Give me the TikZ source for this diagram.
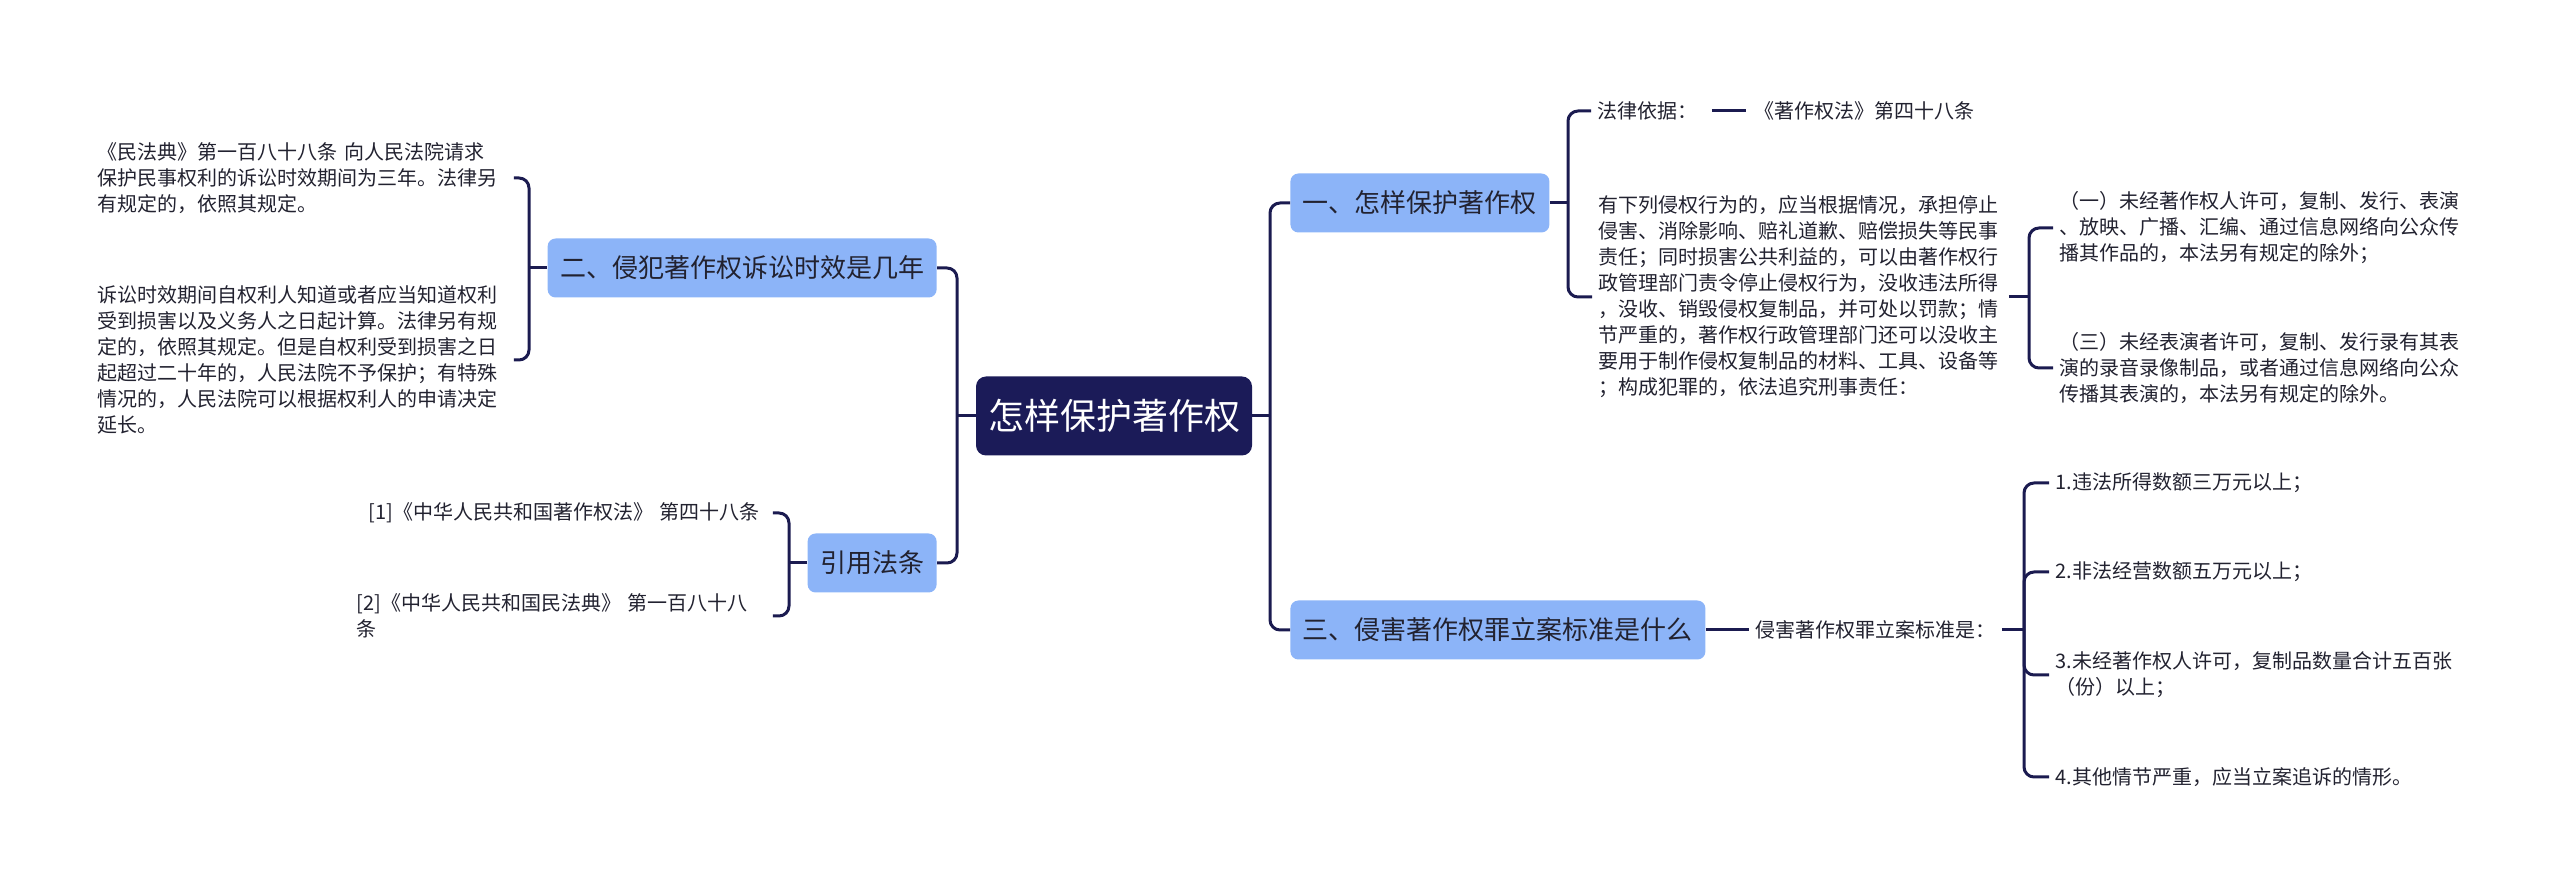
\documentclass[tikz,border=0pt]{standalone}
\usepackage{fontspec}
\newfontfamily\cjk{Noto Sans CJK SC}

\definecolor{linknavy}{RGB}{27,27,80}
\definecolor{rootnavy}{RGB}{27,27,88}
\definecolor{topicblue}{RGB}{140,180,248}
\definecolor{inkgray}{RGB}{34,34,48}

\tikzset{
  link/.style={draw=linknavy, line width=1.5pt, rounded corners=5pt},
  leaf/.style={font=\cjk\fontsize{10}{13}\selectfont, text=inkgray, align=left, inner xsep=3pt, inner ysep=1pt},
  topic/.style={fill=topicblue, rounded corners=4pt, font=\cjk\fontsize{13}{15}\selectfont, text=inkgray, inner xsep=6.25pt, minimum height=29.5pt},
  rootbox/.style={fill=rootnavy, rounded corners=5pt, font=\cjk\fontsize{18}{20}\selectfont, text=white, inner xsep=6pt, minimum height=39.5pt}
}

\begin{document}
\begin{tikzpicture}[x=0.5pt, y=-0.5pt]

    \useasboundingbox (0,0) rectangle (2560,886);

    % centre and main topics
    \node[rootbox] (root) at (1114,416) {怎样保护著作权};
    \node[topic, anchor=west] (protect) at (1290,203) {一、怎样保护著作权};
    \node[topic, anchor=west] (crime) at (1290,630) {三、侵害著作权罪立案标准是什么};
    \node[topic, anchor=east] (limit) at (937,268) {二、侵犯著作权诉讼时效是几年};
    \node[topic, anchor=east] (cite) at (937,563) {引用法条};

    \coordinate (lbus) at (957,416);
    \coordinate (rbus) at (1270,416);
    \draw[link] (root.west) -- (lbus);
    \draw[link] (limit.east) -- (limit.east -| lbus) -- (cite.east -| lbus) -- (cite.east);
    \draw[link] (root.east) -- (rbus);
    \draw[link] (protect.west) -- (protect.west -| rbus) -- (crime.west -| rbus) -- (crime.west);

    % limitation period
    \node[leaf, anchor=west, text width=205pt] (code) at (91,178) {《民法典》第一百八十八条 向人民法院请求\\保护民事权利的诉讼时效期间为三年。法律另\\有规定的，依照其规定。};
    \node[leaf, anchor=west, text width=205pt] (period) at (91,360) {诉讼时效期间自权利人知道或者应当知道权利\\受到损害以及义务人之日起计算。法律另有规\\定的，依照其规定。但是自权利受到损害之日\\起超过二十年的，人民法院不予保护；有特殊\\情况的，人民法院可以根据权利人的申请决定\\延长。};

    \coordinate (limitbus) at (529,268);
    \draw[link] (limit.west) -- (limitbus);
    \draw[link] (code.east) -- (code.east -| limitbus) -- (period.east -| limitbus) -- (period.east);

    % cited articles
    \node[leaf, anchor=west, text width=199pt] (ref1) at (362,513) {[1]《中华人民共和国著作权法》 第四十八条};
    \node[leaf, anchor=west, text width=205pt] (ref2) at (350,616) {[2]《中华人民共和国民法典》 第一百八十八\\条};

    \coordinate (citebus) at (789,563);
    \draw[link] (cite.west) -- (citebus);
    \draw[link] (ref1.east) -- (ref1.east -| citebus) -- (ref2.east -| citebus) -- (ref2.east);

    % how to protect
    \node[leaf, anchor=west] (basis) at (1591,111) {法律依据：};
    \node[leaf, anchor=west] (basislaw) at (1748,111) {《著作权法》第四十八条};
    \node[leaf, anchor=west, text width=202pt] (acts) at (1592,297) {有下列侵权行为的，应当根据情况，承担停止\\侵害、消除影响、赔礼道歉、赔偿损失等民事\\责任；同时损害公共利益的，可以由著作权行\\政管理部门责令停止侵权行为，没收违法所得\\，没收、销毁侵权复制品，并可处以罚款；情\\节严重的，著作权行政管理部门还可以没收主\\要用于制作侵权复制品的材料、工具、设备等\\；构成犯罪的，依法追究刑事责任：};
    \node[leaf, anchor=west, text width=204pt] (act1) at (2053,228) {（一）未经著作权人许可，复制、发行、表演\\、放映、广播、汇编、通过信息网络向公众传\\播其作品的，本法另有规定的除外；};
    \node[leaf, anchor=west, text width=204pt] (act3) at (2053,368) {（三）未经表演者许可，复制、发行录有其表\\演的录音录像制品，或者通过信息网络向公众\\传播其表演的，本法另有规定的除外。};

    \coordinate (protectbus) at (1568,203);
    \coordinate (actsbus) at (2029,297);
    \draw[link] (protect.east) -- (protectbus);
    \draw[link] (basis.west) -- (basis.west -| protectbus) -- (acts.west -| protectbus) -- (acts.west);
    \draw[link, shorten <=4pt, shorten >=1pt] (basis.east) -- (basislaw.west);
    \draw[link] (acts.east) -- (actsbus);
    \draw[link] (act1.west) -- (act1.west -| actsbus) -- (act3.west -| actsbus) -- (act3.west);

    % filing standard
    \node[leaf, anchor=west] (std) at (1749,630) {侵害著作权罪立案标准是：};
    \node[leaf, anchor=west] (std1) at (2049,483) {1.违法所得数额三万元以上；};
    \node[leaf, anchor=west] (std2) at (2049,572) {2.非法经营数额五万元以上；};
    \node[leaf, anchor=west] (std3) at (2049,675) {3.未经著作权人许可，复制品数量合计五百张\\（份）以上；};
    \node[leaf, anchor=west] (std4) at (2049,777) {4.其他情节严重，应当立案追诉的情形。};

    \coordinate (stdbus) at (2024,630);
    \draw[link] (crime.east) -- (std.west);
    \draw[link] (std.east) -- (stdbus);
    \draw[link] (std1.west) -- (std1.west -| stdbus) -- (std4.west -| stdbus) -- (std4.west);
    \draw[link] (std2.west) -- (std2.west -| stdbus) -- (stdbus);
    \draw[link] (std3.west) -- (std3.west -| stdbus) -- (stdbus);

\end{tikzpicture}
\end{document}
